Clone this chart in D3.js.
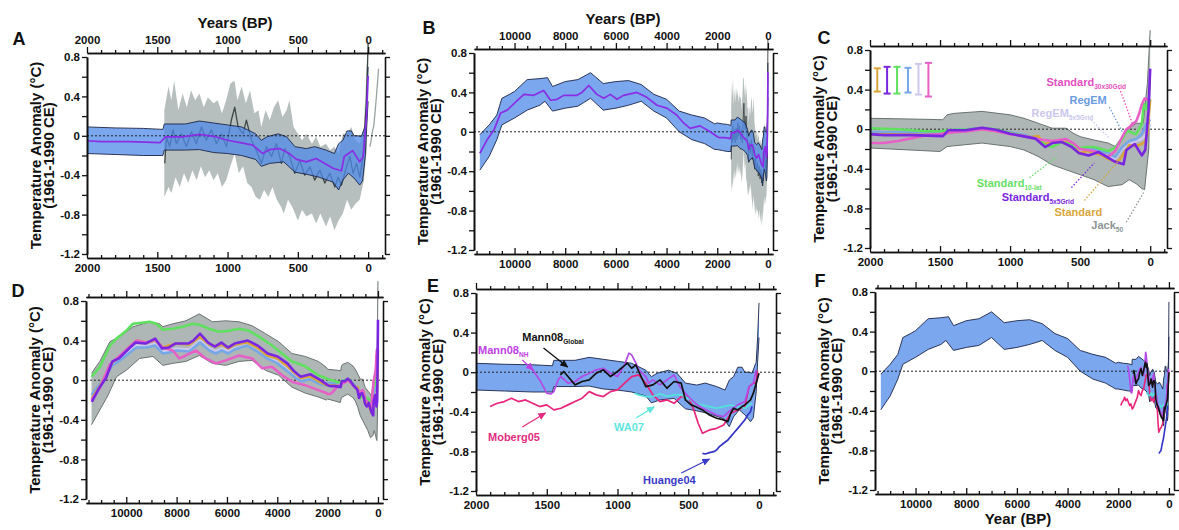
<!DOCTYPE html>
<html>
<head>
<meta charset="utf-8">
<script src="https://cdn.jsdelivr.net/npm/d3@7"></script>
<style>
  body { margin: 0; background: #fff; }
  svg text { font-family: "Liberation Sans", Arial, sans-serif; font-weight: bold; }
</style>
</head>
<body>
<svg id="fig" width="1179" height="530"></svg>
<script>
// ---------- axis settings ----------
const recentDomain = [2000, -120];
const holoDomain = [11600, -200];
const yDomain = [-1.2, 0.8];
const yMajor = [-1.2, -0.8, -0.4, 0, 0.4, 0.8];
const yMinor = [-1.0, -0.6, -0.2, 0.2, 0.6];
const xMajorRecent = [2000, 1500, 1000, 500, 0];
const xMajorHolo = [10000, 8000, 6000, 4000, 2000, 0];

// ---------- series: [years BP, temperature anomaly °C] ----------
// Standard 5x5 grid stack, mean
const stackMean = [[11370,-0.22],[11080,-0.08],[10810,0.02],[10550,0.19],[10290,0.22],[9890,0.32],[9630,0.38],[9240,0.37],[8850,0.42],[8580,0.32],[8320,0.33],[8060,0.37],[7540,0.37],[7340,0.40],[7070,0.47],[6750,0.38],[6480,0.34],[6220,0.38],[5960,0.33],[5700,0.37],[5170,0.40],[4780,0.35],[4380,0.27],[3990,0.24],[3600,0.17],[3330,0.09],[3070,0.035],[2680,0.06],[2280,0.0],[2050,-0.04],
  [2000,-0.05],[1900,-0.06],[1700,-0.06],[1480,-0.07],[1440,-0.01],[1320,-0.01],[1200,0.015],[1100,-0.005],[1000,-0.045],[910,-0.07],[820,-0.095],[750,-0.18],[700,-0.14],[630,-0.13],[560,-0.18],[510,-0.24],[440,-0.265],[370,-0.23],[250,-0.33],[190,-0.355],[170,-0.21],[110,-0.15],[60,-0.265],[35,-0.21],[12,0.19],[0,0.61]];
// 1-sigma envelope
const stackUpper = [[11370,-0.03],[11000,0.07],[10700,0.17],[10500,0.34],[10200,0.38],[10000,0.41],[9500,0.53],[9000,0.54],[8700,0.55],[8500,0.46],[8000,0.51],[7500,0.53],[7000,0.60],[6500,0.49],[6000,0.51],[5500,0.52],[5000,0.48],[4500,0.38],[4000,0.33],[3500,0.21],[3000,0.17],[2500,0.14],[2100,0.08],
  [2000,0.09],[1800,0.08],[1600,0.075],[1460,0.065],[1450,0.12],[1300,0.12],[1200,0.15],[1100,0.13],[1000,0.11],[900,0.09],[800,0.02],[760,-0.045],[720,-0.01],[640,0.02],[580,-0.01],[520,-0.11],[440,-0.13],[380,-0.11],[300,-0.145],[240,-0.18],[210,-0.08],[180,-0.045],[150,0.05],[120,0.05],[100,0.0],[70,0.0],[50,-0.01],[20,0.1],[10,0.35],[0,0.7]];
const stackLower = [[11370,-0.39],[11000,-0.25],[10700,-0.08],[10500,0.07],[10000,0.14],[9500,0.22],[9000,0.27],[8800,0.31],[8500,0.21],[8000,0.24],[7500,0.26],[7000,0.34],[6500,0.22],[6000,0.24],[5500,0.27],[5000,0.31],[4500,0.21],[4000,0.14],[3500,0.0],[3000,-0.08],[2500,-0.12],[2100,-0.18],
  [2000,-0.18],[1800,-0.19],[1600,-0.2],[1460,-0.2],[1450,-0.145],[1300,-0.145],[1200,-0.14],[1100,-0.17],[1000,-0.18],[900,-0.2],[800,-0.24],[760,-0.31],[700,-0.28],[600,-0.265],[520,-0.37],[440,-0.39],[350,-0.42],[250,-0.47],[210,-0.55],[180,-0.45],[140,-0.38],[100,-0.43],[60,-0.5],[40,-0.46],[20,-0.2],[10,0.1],[0,0.35]];

// Mann et al. (2008) global EIV reconstruction and its uncertainty
const mannGlobalEIV = [[1447,-0.28],[1435,-0.01],[1412,-0.11],[1388,0.06],[1364,-0.08],[1329,0.02],[1293,-0.11],[1257,0.04],[1222,-0.08],[1186,0.09],[1151,-0.045],[1115,0.06],[1079,-0.08],[1044,0.02],[1008,-0.11],[973,0.16],[949,0.29],[925,0.09],[890,0.02],[866,0.16],[830,-0.045],[795,-0.15],[759,-0.28],[724,-0.11],[688,-0.21],[652,-0.08],[617,-0.28],[593,-0.13],[558,-0.21],[522,-0.38],[486,-0.25],[451,-0.4],[415,-0.315],[380,-0.45],[344,-0.35],[308,-0.48],[273,-0.38],[237,-0.52],[214,-0.42],[190,-0.5],[154,-0.315],[130,-0.21],[107,-0.38],[83,-0.28],[59,-0.42],[36,-0.21],[12,0.36],[0,0.94]];
const mannUpper = [[1450,0.26],[1420,0.5],[1400,0.36],[1380,0.56],[1350,0.26],[1320,0.43],[1290,0.29],[1260,0.46],[1230,0.36],[1200,0.43],[1170,0.29],[1140,0.39],[1100,0.33],[1070,0.36],[1040,0.23],[1010,0.36],[980,0.53],[950,0.56],[930,0.36],[900,0.5],[870,0.33],[840,0.46],[810,0.23],[780,0.26],[760,0.09],[730,0.26],[700,0.16],[670,0.29],[640,0.36],[610,0.19],[580,0.26],[560,0.36],[530,0.09],[500,0.02],[470,-0.045],[440,0.02],[400,-0.08],[370,-0.01],[340,-0.11],[300,-0.08],[270,-0.145],[240,-0.11],[210,-0.18],[180,0.02],[150,0.02],[120,0.09],[90,-0.045],[60,-0.08],[30,0.09],[10,0.7],[0,0.94]];
const mannLower = [[1450,-0.62],[1420,-0.52],[1400,-0.58],[1370,-0.42],[1340,-0.52],[1310,-0.38],[1280,-0.48],[1250,-0.35],[1220,-0.45],[1190,-0.31],[1160,-0.42],[1130,-0.35],[1100,-0.45],[1070,-0.38],[1040,-0.52],[1010,-0.45],[980,-0.31],[950,-0.18],[920,-0.38],[890,-0.31],[860,-0.48],[830,-0.52],[800,-0.62],[770,-0.65],[740,-0.55],[710,-0.62],[680,-0.52],[650,-0.65],[620,-0.72],[600,-0.79],[570,-0.65],[540,-0.72],[500,-0.86],[470,-0.75],[440,-0.82],[400,-0.79],[370,-0.89],[340,-0.79],[300,-0.92],[270,-0.82],[240,-0.96],[210,-0.86],[180,-0.79],[150,-0.65],[120,-0.75],[90,-0.69],[60,-0.65],[30,-0.45],[10,-0.15],[0,0.5]];
// instrumental record after 1950 CE
const instrumental = [[-12,-0.11],[-20,-0.06],[-30,0.04],[-40,0.1],[-50,0.25],[-60,0.42],[-70,0.6],[-74,0.68]];

// Jackknife (50%) envelope
const jackUpper = [[11380,0.07],[11050,0.19],[10650,0.39],[10260,0.44],[9730,0.54],[9070,0.59],[8680,0.57],[8550,0.54],[8150,0.57],[7630,0.60],[7100,0.67],[6580,0.59],[6050,0.60],[5520,0.59],[5000,0.55],[4470,0.47],[3950,0.39],[3420,0.27],[2890,0.24],[2370,0.19],[2050,0.13],
  [2000,0.11],[1600,0.10],[1480,0.095],[1450,0.145],[1400,0.16],[1200,0.18],[1000,0.145],[900,0.11],[800,0.06],[700,0.01],[600,0.01],[550,-0.04],[500,-0.075],[400,-0.11],[300,-0.14],[250,-0.175],[200,-0.075],[150,0.01],[100,0.06],[50,0.06],[20,0.46],[0,1.0]];
const jackLower = [[11380,-0.45],[11050,-0.30],[10720,-0.15],[10390,0.035],[10000,0.10],[9470,0.22],[8940,0.24],[8550,0.15],[8150,0.17],[7630,0.19],[7100,0.25],[6580,0.17],[6050,0.15],[5520,0.19],[5000,0.20],[4470,0.10],[3950,0.05],[3420,-0.07],[2890,-0.13],[2370,-0.17],[2050,-0.2],
  [2000,-0.19],[1500,-0.225],[1450,-0.175],[1200,-0.14],[1000,-0.175],[900,-0.21],[800,-0.275],[700,-0.36],[600,-0.41],[500,-0.46],[400,-0.51],[300,-0.58],[200,-0.56],[150,-0.51],[100,-0.55],[60,-0.6],[40,-0.61],[10,-0.2],[0,0.6]];

// alternative stacks
const standard10lat = [[11380,0.035],[11050,0.135],[10650,0.35],[10390,0.42],[10000,0.50],[9730,0.57],[9070,0.59],[8810,0.57],[8550,0.51],[8150,0.52],[7760,0.54],[7360,0.57],[7100,0.56],[6710,0.52],[6310,0.49],[5920,0.50],[5520,0.52],[5130,0.50],[4730,0.44],[4210,0.35],[3810,0.27],[3420,0.19],[2890,0.14],[2370,0.05],[2050,0.02],
  [2000,0.01],[1800,0.0],[1600,-0.02],[1500,-0.02],[1450,-0.01],[1300,0.0],[1200,0.01],[1100,0.0],[1000,-0.04],[900,-0.07],[800,-0.1],[750,-0.16],[700,-0.18],[650,-0.14],[600,-0.14],[550,-0.17],[500,-0.19],[450,-0.18],[400,-0.18],[350,-0.2],[300,-0.22],[250,-0.19],[200,-0.1],[170,-0.03],[150,-0.02],[120,-0.04],[100,-0.05],[80,0.0],[60,0.05],[45,0.26],[30,0.2],[15,0.28],[0,0.3]];
const standard30x30 = [[11380,-0.20],[11050,-0.08],[10650,0.16],[10250,0.25],[9900,0.33],[9600,0.40],[9200,0.38],[8850,0.41],[8550,0.33],[8150,0.30],[7890,0.22],[7630,0.25],[7230,0.30],[6840,0.22],[6440,0.17],[6050,0.20],[5520,0.25],[5000,0.22],[4600,0.12],[4210,0.135],[3810,0.05],[3420,-0.015],[2890,-0.05],[2370,-0.10],[2050,-0.13],
  [2000,-0.14],[1900,-0.14],[1800,-0.12],[1700,-0.09],[1600,-0.06],[1500,-0.05],[1400,-0.03],[1300,-0.02],[1200,0.0],[1100,-0.02],[1000,-0.05],[900,-0.07],[800,-0.1],[700,-0.12],[600,-0.1],[550,-0.14],[500,-0.2],[450,-0.21],[400,-0.22],[350,-0.25],[300,-0.28],[250,-0.22],[200,-0.08],[170,0.0],[150,0.02],[120,0.06],[100,0.08],[80,0.15],[60,0.25],[40,0.31],[20,0.3],[0,0.3]];
const standardStack = [[11380,-0.19],[11050,-0.06],[10550,0.18],[10250,0.24],[9900,0.33],[9600,0.40],[9200,0.38],[8850,0.40],[8550,0.33],[8300,0.35],[8000,0.37],[7500,0.36],[7070,0.44],[6700,0.36],[6450,0.34],[6200,0.36],[5950,0.32],[5700,0.36],[5200,0.38],[4800,0.33],[4400,0.25],[4000,0.22],[3600,0.14],[3300,0.07],[3050,0.02],[2700,0.04],[2300,-0.02],[2050,-0.05],
  [2000,-0.05],[1500,-0.06],[1450,-0.02],[1200,0.0],[1000,-0.04],[900,-0.07],[850,-0.08],[800,-0.07],[750,-0.15],[700,-0.12],[600,-0.12],[550,-0.18],[500,-0.24],[450,-0.22],[400,-0.24],[350,-0.26],[300,-0.3],[250,-0.33],[220,-0.31],[200,-0.27],[150,-0.16],[100,-0.17],[60,-0.15],[40,-0.13],[20,-0.05],[0,0.3]];
const regEM = [[11380,-0.15],[11050,-0.04],[10550,0.15],[10250,0.2],[9900,0.27],[9600,0.33],[9200,0.33],[8850,0.35],[8550,0.27],[8300,0.28],[8000,0.30],[7500,0.29],[7070,0.38],[6700,0.30],[6450,0.27],[6200,0.30],[5950,0.27],[5700,0.31],[5200,0.35],[4800,0.29],[4400,0.22],[4000,0.17],[3600,0.09],[3300,0.03],[3050,-0.01],[2700,0.01],[2300,-0.04],[2050,-0.05],
  [2000,-0.03],[1500,-0.04],[1450,-0.01],[1200,0.01],[1000,-0.03],[800,-0.09],[750,-0.15],[700,-0.12],[600,-0.13],[500,-0.2],[400,-0.2],[300,-0.24],[250,-0.28],[200,-0.18],[150,-0.12],[100,-0.1],[60,-0.05],[30,0.05],[0,0.1]];
const regEM5x5 = [[11380,-0.17],[11050,-0.05],[10550,0.16],[10250,0.21],[9900,0.29],[9600,0.35],[9200,0.34],[8850,0.37],[8550,0.29],[8300,0.30],[8000,0.32],[7500,0.31],[7070,0.40],[6700,0.32],[6450,0.29],[6200,0.32],[5950,0.29],[5700,0.32],[5200,0.36],[4800,0.30],[4400,0.23],[4000,0.19],[3600,0.11],[3300,0.04],[3050,0.0],[2700,0.02],[2300,-0.03],[2050,-0.04],
  [2000,-0.04],[1500,-0.05],[1450,-0.02],[1200,0.0],[1000,-0.04],[800,-0.09],[700,-0.13],[600,-0.12],[500,-0.22],[400,-0.22],[300,-0.28],[250,-0.3],[200,-0.2],[150,-0.15],[100,-0.12],[60,-0.1],[30,-0.05],[0,0.05]];

// average uncertainty of each stack (C, upper left)
const errBarBP = [1948, 1878, 1807, 1729, 1654, 1583];
const errBarLow = [0.38, 0.36, 0.36, 0.37, 0.35, 0.33];
const errBarHigh = [0.615, 0.63, 0.63, 0.62, 0.66, 0.67];

// other reconstructions
const moberg05 = [[1900,-0.347],[1850,-0.314],[1800,-0.297],[1750,-0.263],[1700,-0.297],[1650,-0.28],[1600,-0.314],[1550,-0.347],[1500,-0.33],[1450,-0.381],[1400,-0.364],[1350,-0.33],[1300,-0.297],[1250,-0.263],[1200,-0.196],[1150,-0.229],[1100,-0.246],[1050,-0.196],[1000,-0.179],[950,-0.111],[900,-0.044],[850,-0.027],[800,-0.111],[750,-0.229],[700,-0.297],[650,-0.28],[600,-0.314],[550,-0.246],[500,-0.246],[460,-0.381],[430,-0.516],[400,-0.617],[350,-0.583],[300,-0.567],[250,-0.533],[200,-0.415],[150,-0.381],[100,-0.347],[70,-0.145],[40,-0.111],[20,-0.111],[10,0.007]];
const mann08NH = [[1628,0.057],[1600,0.024],[1550,-0.078],[1500,-0.212],[1470,-0.219],[1450,-0.196],[1420,-0.078],[1400,-0.044],[1350,-0.111],[1300,-0.094],[1250,-0.044],[1200,-0.01],[1150,0.024],[1100,0.04],[1050,-0.01],[1000,-0.044],[950,0.074],[920,0.192],[900,0.175],[870,0.091],[850,0.024],[800,-0.044],[780,-0.111],[750,-0.078],[700,-0.128],[650,-0.078],[600,-0.027],[560,-0.145],[500,-0.246],[450,-0.314],[400,-0.364],[300,-0.432],[250,-0.449],[200,-0.381],[150,-0.33],[100,-0.297],[70,-0.145],[40,-0.111],[20,0.024]];
const mann08Global = [[1404,-0.027],[1380,0.007],[1350,-0.044],[1300,-0.128],[1250,-0.094],[1200,-0.078],[1150,-0.01],[1100,0.024],[1050,-0.044],[1000,0.007],[960,0.057],[930,0.091],[900,0.04],[870,0.074],[850,0.007],[800,-0.145],[750,-0.128],[700,-0.078],[650,-0.162],[600,-0.094],[550,-0.111],[520,-0.28],[480,-0.33],[450,-0.347],[400,-0.381],[350,-0.432],[300,-0.465],[250,-0.482],[220,-0.499],[200,-0.415],[180,-0.364],[150,-0.381],[120,-0.347],[100,-0.33],[60,-0.28],[40,-0.212],[20,-0.111],[0,-0.01]];
const wa07 = [[880,-0.212],[850,-0.229],[800,-0.246],[750,-0.246],[700,-0.219],[650,-0.246],[600,-0.229],[550,-0.229],[500,-0.263],[450,-0.314],[400,-0.331],[350,-0.347],[300,-0.364],[250,-0.347],[200,-0.331],[150,-0.347],[100,-0.364],[70,-0.331],[50,-0.314]];
const huang04 = [[400,-0.82],[380,-0.826],[350,-0.813],[320,-0.803],[300,-0.786],[280,-0.752],[250,-0.718],[220,-0.685],[200,-0.651],[180,-0.617],[150,-0.567],[120,-0.516],[100,-0.482],[80,-0.432],[60,-0.398],[50,-0.347]];

// ---------- colours ----------
const col = {
  bandFill: "#4f8ae8", bandEdge: "#1c2547", mean: "#8a2ee6",
  mannFill: "#b6bfbd", mannLine: "#3f4745", instr: "#9ba4a2",
  jackFill: "#aeb7b5", jackEdge: "#6a7371",
  green: "#5fe05f", pink: "#e660c8", orange: "#d9a53a", regem: "#76a7e6", lav: "#cdc8ee", purple: "#7a26e0",
  moberg: "#e8247c", nh: "#b44ae6", glob: "#111111", wa: "#52e3da", huang: "#3333c4"
};

// ---------- panel layout ----------
const layout = {
  A: {L: 87, W: 298, top: 57, bot: 254, span: "recent", letter: [19, 39], topLabels: true, xTitle: [235, 28, "Years (BP)"]},
  B: {L: 474, W: 299, top: 53, bot: 250, span: "holo", letter: [429, 28], topLabels: true, xTitle: [623, 24, "Years (BP)"]},
  C: {L: 870, W: 297, top: 50, bot: 248, span: "recent", letter: [824, 38]},
  D: {L: 86, W: 297, top: 301, bot: 499, span: "holo", letter: [18, 291]},
  E: {L: 476, W: 300, top: 293, bot: 491, span: "recent", letter: [433, 286]},
  F: {L: 875, W: 299, top: 292, bot: 490, span: "holo", letter: [820, 281], xTitle: [1018, 524, "Year (BP)"]}
};

const svg = d3.select("#fig");
const defs = svg.append("defs");
const fmtY = v => (v === 0 ? "0" : v.toFixed(1));

function panel(key) {
  const p = layout[key];
  const x = d3.scaleLinear().domain(p.span === "recent" ? recentDomain : holoDomain).range([p.L, p.L + p.W]);
  const y = d3.scaleLinear().domain(yDomain).range([p.bot, p.top]);
  const g = svg.append("g");
  const sel = arr => (p.span === "recent" ? arr.filter(d => d[0] <= 2000) : arr);
  return {key, p, x, y, g, sel};
}

function lineGen(pn) { return d3.line().x(d => pn.x(d[0])).y(d => pn.y(d[1])); }

function drawBand(pn, upper, lower, fill, opacity, edge, edgeW) {
  const up = pn.sel(upper), lo = pn.sel(lower);
  const poly = up.concat(lo.slice().reverse());
  pn.g.append("path").attr("d", lineGen(pn)(poly) + "Z").attr("fill", fill).attr("fill-opacity", opacity).attr("stroke", "none");
  if (edge) {
    [up, lo].forEach(s => pn.g.append("path").attr("d", lineGen(pn)(s)).attr("fill", "none").attr("stroke", edge).attr("stroke-width", edgeW));
  }
}

function drawLine(pn, data, color, width) {
  pn.g.append("path").attr("d", lineGen(pn)(pn.sel(data))).attr("fill", "none")
    .attr("stroke", color).attr("stroke-width", width).attr("stroke-linejoin", "round");
}

function zeroLine(pn) {
  pn.g.append("line").attr("x1", pn.x.range()[0]).attr("x2", pn.x.range()[1])
    .attr("y1", pn.y(0)).attr("y2", pn.y(0)).attr("stroke", "#222").attr("stroke-width", 1).attr("stroke-dasharray", "2,2");
}

function styleAxis(sel) {
  sel.attr("font-size", null).attr("font-family", null);
  sel.selectAll(".domain").attr("stroke", "#111").attr("stroke-width", 1.6);
  sel.selectAll(".tick line").attr("stroke", "#111").attr("stroke-width", 1.3);
  sel.selectAll(".tick text").attr("fill", "#111").style("font-size", "11.5px");
}

function frame(pn) {
  const {p, x, y, g} = pn;
  const R = p.L + p.W;
  // left and right temperature axes
  const la = g.append("g").attr("transform", `translate(${p.L},0)`)
    .call(d3.axisLeft(y).tickValues(yMajor).tickSize(5).tickSizeOuter(0).tickPadding(2).tickFormat(fmtY));
  styleAxis(la);
  const lm = g.append("g").attr("transform", `translate(${p.L},0)`)
    .call(d3.axisLeft(y).tickValues(yMinor).tickSize(5).tickSizeOuter(0).tickFormat(""));
  styleAxis(lm);
  const ra = g.append("g").attr("transform", `translate(${R},0)`)
    .call(d3.axisRight(y).tickValues(yMajor.concat(yMinor)).tickSize(5).tickSizeOuter(0).tickFormat(""));
  styleAxis(ra);
  // time axes
  const major = p.span === "recent" ? xMajorRecent : xMajorHolo;
  const step = p.span === "recent" ? 100 : 500;
  const lo = p.span === "recent" ? -100 : 0;
  const hi = p.span === "recent" ? 2000 : 11500;
  const minor = d3.range(lo, hi + 1, step).filter(v => !major.includes(v));
  const yb = p.bot + 4, yt = p.top - 4;
  const ba = g.append("g").attr("transform", `translate(0,${yb})`)
    .call(d3.axisBottom(x).tickValues(major).tickSize(-6).tickSizeOuter(0).tickPadding(6).tickFormat(d => String(d)));
  styleAxis(ba);
  const bm = g.append("g").attr("transform", `translate(0,${yb})`)
    .call(d3.axisBottom(x).tickValues(minor).tickSize(-3).tickSizeOuter(0).tickFormat(""));
  styleAxis(bm);
  const ta = g.append("g").attr("transform", `translate(0,${yt})`)
    .call(d3.axisTop(x).tickValues(major).tickSize(6).tickSizeOuter(0).tickPadding(3)
      .tickFormat(p.topLabels ? (d => String(d)) : ""));
  styleAxis(ta);
  const tm = g.append("g").attr("transform", `translate(0,${yt})`)
    .call(d3.axisTop(x).tickValues(minor).tickSize(3).tickSizeOuter(0).tickFormat(""));
  styleAxis(tm);
  // titles
  const yc = (p.top + p.bot) / 2;
  g.append("text").attr("transform", `translate(${p.L - 46},${yc}) rotate(-90)`).attr("text-anchor", "middle")
    .style("font-size", "15px").attr("fill", "#111").text("Temperature Anomaly (°C)");
  g.append("text").attr("transform", `translate(${p.L - 33},${yc}) rotate(-90)`).attr("text-anchor", "middle")
    .style("font-size", "15px").attr("fill", "#111").text("(1961-1990 CE)");
  if (p.xTitle) {
    g.append("text").attr("x", p.xTitle[0]).attr("y", p.xTitle[1]).attr("text-anchor", "middle")
      .style("font-size", "15px").attr("fill", "#111").text(p.xTitle[2]);
  }
  g.append("text").attr("x", p.letter[0]).attr("y", p.letter[1]).attr("text-anchor", "middle")
    .attr("dominant-baseline", "central").style("font-size", "18px").attr("fill", "#111").text(pn.key);
}

const markerIds = {};
function markerFor(color) {
  if (markerIds[color]) return markerIds[color];
  const id = "arrow" + Object.keys(markerIds).length;
  defs.append("marker").attr("id", id).attr("viewBox", "0 0 10 10").attr("refX", 9).attr("refY", 5)
    .attr("markerWidth", 8).attr("markerHeight", 8).attr("markerUnits", "userSpaceOnUse").attr("orient", "auto")
    .append("path").attr("d", "M0,0.5 L10,5 L0,9.5 Z").attr("fill", color);
  markerIds[color] = id;
  return id;
}

function notes(pn, list, dotted, size) {
  list.forEach(n => {
    const t = pn.g.append("text").attr("x", pn.x(n.at[0])).attr("y", pn.y(n.at[1])).attr("fill", n.color).style("font-size", size + "px");
    t.append("tspan").text(n.text);
    if (n.sub) t.append("tspan").style("font-size", (size * 0.6) + "px").attr("dy", size * 0.28).text(n.sub);
    const ln = pn.g.append("line")
      .attr("x1", pn.x(n.from[0])).attr("y1", pn.y(n.from[1]))
      .attr("x2", pn.x(n.to[0])).attr("y2", pn.y(n.to[1]))
      .attr("stroke", n.color).attr("stroke-width", 1.3);
    if (dotted) ln.attr("stroke-dasharray", "1.5,1.8");
    else ln.attr("marker-end", `url(#${markerFor(n.color)})`);
  });
}

// ---------- A: last two millennia with Mann08 EIV ----------
{
  const pn = panel("A");
  drawBand(pn, mannUpper, mannLower, col.mannFill, 1, null);
  drawLine(pn, mannGlobalEIV, col.mannLine, 1.3);
  drawLine(pn, instrumental, col.instr, 1.3);
  drawBand(pn, stackUpper, stackLower, col.bandFill, 0.75, col.bandEdge, 0.9);
  zeroLine(pn);
  drawLine(pn, stackMean, col.mean, 1.7);
  frame(pn);
}

// ---------- B: Holocene stack ----------
{
  const pn = panel("B");
  drawBand(pn, mannUpper, mannLower, col.mannFill, 1, null);
  drawLine(pn, mannGlobalEIV, col.mannLine, 0.9);
  drawBand(pn, stackUpper, stackLower, col.bandFill, 0.75, col.bandEdge, 0.9);
  zeroLine(pn);
  drawLine(pn, stackMean, col.mean, 1.7);
  frame(pn);
}

// ---------- C and D: alternative stacking methods ----------
const stackSeries = [
  [regEM5x5, col.lav], [regEM, col.regem], [standardStack, col.orange],
  [standard10lat, col.green], [standard30x30, col.pink], [stackMean, col.purple]
];
{
  const pn = panel("C");
  drawBand(pn, jackUpper, jackLower, col.jackFill, 1, col.jackEdge, 1);
  zeroLine(pn);
  stackSeries.forEach(([s, c]) => drawLine(pn, s, c, 2.6));
  const barCols = [col.orange, col.purple, col.green, col.regem, col.lav, col.pink];
  errBarBP.forEach((bp, i) => {
    const xx = pn.x(bp), y0 = pn.y(errBarLow[i]), y1 = pn.y(errBarHigh[i]);
    const c = barCols[i];
    pn.g.append("line").attr("x1", xx).attr("x2", xx).attr("y1", y0).attr("y2", y1).attr("stroke", c).attr("stroke-width", 2);
    [y0, y1].forEach(yy => pn.g.append("line").attr("x1", xx - 3.5).attr("x2", xx + 3.5).attr("y1", yy).attr("y2", yy).attr("stroke", c).attr("stroke-width", 2));
  });
  notes(pn, [
    {text: "Standard", sub: "30x30Grid", color: "#e44fc0", at: [740, 0.436], from: [220, 0.417], to: [128, 0.063]},
    {text: "RegEM", sub: "", color: "#6a9be0", at: [576, 0.254], from: [292, 0.224], to: [199, -0.028]},
    {text: "RegEM", sub: "5x5Grid", color: "#cbc6ee", at: [847, 0.123], from: [420, 0.093], to: [292, -0.089]},
    {text: "Standard", sub: "10-lat", color: "#66e066", at: [1238, -0.584], from: [861, -0.49], to: [669, -0.28]},
    {text: "Standard", sub: "5x5Grid", color: "#7a26e0", at: [1060, -0.727], from: [562, -0.59], to: [398, -0.34]},
    {text: "Standard", sub: "", color: "#d9a53a", at: [683, -0.879], from: [470, -0.72], to: [220, -0.31]},
    {text: "Jack", sub: "50", color: "#8b9593", at: [420, -1.01], from: [171, -0.94], to: [43, -0.63]}
  ], true, 11);
  frame(pn);
}
{
  const pn = panel("D");
  drawBand(pn, jackUpper, jackLower, col.jackFill, 1, col.jackEdge, 1);
  zeroLine(pn);
  stackSeries.forEach(([s, c]) => drawLine(pn, s, c, 2.6));
  frame(pn);
}

// ---------- E and F: comparison with other reconstructions ----------
const otherSeries = [[moberg05, col.moberg], [wa07, col.wa], [mann08NH, col.nh], [huang04, col.huang], [mann08Global, col.glob]];
{
  const pn = panel("E");
  drawBand(pn, stackUpper, stackLower, col.bandFill, 0.75, col.bandEdge, 0.9);
  zeroLine(pn);
  otherSeries.forEach(([s, c]) => drawLine(pn, s, c, 1.7));
  notes(pn, [
    {text: "Mann08", sub: "Global", color: "#111111", at: [1673, 0.315], from: [1523, 0.245], to: [1353, 0.053]},
    {text: "Mann08", sub: "NH", color: "#c040e4", at: [1986, 0.184], from: [1673, 0.124], to: [1595, 0.022]},
    {text: "Moberg05", sub: "", color: "#e22c80", at: [1915, -0.695], from: [1673, -0.553], to: [1509, -0.412]},
    {text: "WA07", sub: "", color: "#5ee6dc", at: [1025, -0.594], from: [869, -0.462], to: [741, -0.35]},
    {text: "Huange04", sub: "", color: "#3a3ac8", at: [819, -1.13], from: [549, -1.018], to: [350, -0.877]}
  ], false, 11);
  frame(pn);
}
{
  const pn = panel("F");
  drawBand(pn, stackUpper, stackLower, col.bandFill, 0.75, col.bandEdge, 0.9);
  zeroLine(pn);
  otherSeries.forEach(([s, c]) => drawLine(pn, s, c, 1.6));
  frame(pn);
}
</script>
</body>
</html>
